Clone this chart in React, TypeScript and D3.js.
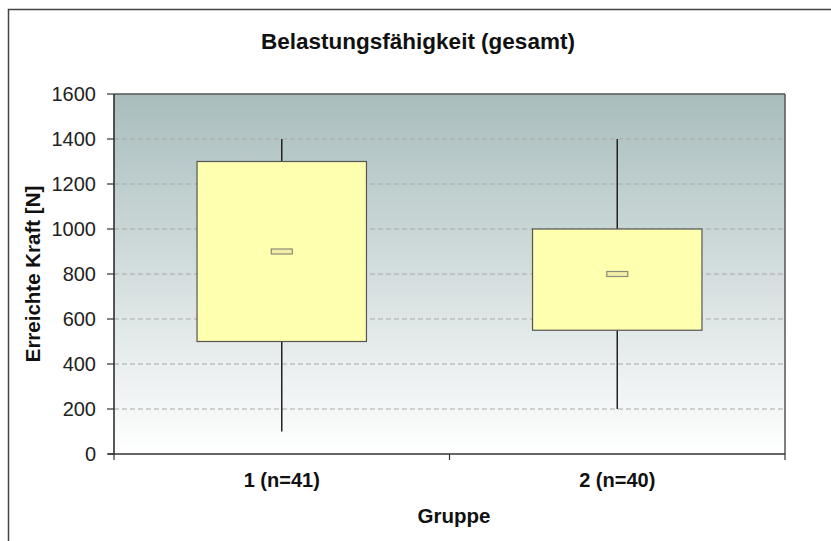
import React from "react";
import * as d3 from "d3";

// Boxplot-Daten
const groups = ["1 (n=41)", "2 (n=40)"];
const whiskerLow = [100, 200];
const q1 = [500, 550];
const median = [900, 800];
const q3 = [1300, 1000];
const whiskerHigh = [1400, 1400];
const yTicks = [0, 200, 400, 600, 800, 1000, 1200, 1400, 1600];

const W = 831;
const H = 541;
const margin = { left: 114, right: 46, top: 94, bottom: 87 };
const font = "Arial, 'Liberation Sans', sans-serif";

export default function App() {
  const x = d3
    .scaleBand<string>()
    .domain(groups)
    .range([margin.left, W - margin.right])
    .paddingInner(0)
    .paddingOuter(0);
  const y = d3
    .scaleLinear()
    .domain([0, 1600])
    .range([H - margin.bottom, margin.top]);

  const x0 = margin.left;
  const x1 = W - margin.right;
  const y0 = y(0);
  const y1 = y(1600);
  const boxW = x.bandwidth() * 0.505;

  return (
    <svg
      width={W}
      height={H}
      style={{ position: "absolute", left: 0, top: 0, background: "#fff" }}
      fontFamily={font}
    >
      <defs>
        <linearGradient id="bg" x1="0" y1="0" x2="0" y2="1">
          <stop offset="0%" stopColor="#a9bdbd" />
          <stop offset="100%" stopColor="#ffffff" />
        </linearGradient>
      </defs>
      {/* äußerer Rahmen */}
      <rect x={8.5} y={9.5} width={W} height={H} fill="none" stroke="#444" strokeWidth={1.5} />

      <text x={418} y={49} textAnchor="middle" fontSize={22.5} fontWeight="bold" fill="#111">
        Belastungsfähigkeit (gesamt)
      </text>

      <rect x={x0} y={y1} width={x1 - x0} height={y0 - y1} fill="url(#bg)" />

      {yTicks.slice(1, -1).map((t) => (
        <line
          key={t}
          x1={x0}
          x2={x1}
          y1={y(t)}
          y2={y(t)}
          stroke="#a8a8a8"
          strokeWidth={1}
          strokeDasharray="5,3"
        />
      ))}

      {/* Rahmen Plotbereich */}
      <line x1={x0} x2={x1} y1={y1} y2={y1} stroke="#555" strokeWidth={1.5} />
      <line x1={x1} x2={x1} y1={y1} y2={y0} stroke="#555" strokeWidth={1.5} />

      {groups.map((g, i) => {
        const cx = (x(g) as number) + x.bandwidth() / 2;
        return (
          <g key={g}>
            <line x1={cx} x2={cx} y1={y(whiskerHigh[i])} y2={y(q3[i])} stroke="#222" strokeWidth={1.5} />
            <line x1={cx} x2={cx} y1={y(q1[i])} y2={y(whiskerLow[i])} stroke="#222" strokeWidth={1.5} />
            <rect
              x={cx - boxW / 2}
              y={y(q3[i])}
              width={boxW}
              height={y(q1[i]) - y(q3[i])}
              fill="#ffffb0"
              stroke="#555"
              strokeWidth={1.2}
            />
            <rect
              x={cx - 10.5}
              y={y(median[i]) - 2.5}
              width={21}
              height={5}
              fill="#f2efa8"
              stroke="#8a8a78"
              strokeWidth={1.2}
            />
          </g>
        );
      })}

      {/* Achsen */}
      <line x1={x0} x2={x0} y1={y1} y2={y0 + 1} stroke="#222" strokeWidth={1.5} />
      <line x1={x0 - 6} x2={x1} y1={y0} y2={y0} stroke="#333" strokeWidth={1.5} />
      {yTicks.map((t) => (
        <g key={t}>
          <line x1={x0 - 7} x2={x0} y1={y(t)} y2={y(t)} stroke="#333" strokeWidth={1.2} />
          <text x={x0 - 18} y={y(t) + 7} textAnchor="end" fontSize={20} fill="#222">
            {t}
          </text>
        </g>
      ))}
      {[x0, x0 + x.bandwidth(), x1].map((tx, i) => (
        <line key={i} x1={tx} x2={tx} y1={y0} y2={y0 + 6} stroke="#333" strokeWidth={1.2} />
      ))}
      {groups.map((g) => (
        <text
          key={g}
          x={(x(g) as number) + x.bandwidth() / 2}
          y={y0 + 33}
          textAnchor="middle"
          fontSize={20}
          fontWeight="bold"
          fill="#111"
        >
          {g}
        </text>
      ))}
      <text x={454} y={523} textAnchor="middle" fontSize={20.5} fontWeight="bold" fill="#111">
        Gruppe
      </text>
      <text
        transform={`translate(40, ${(y0 + y1) / 2}) rotate(-90)`}
        textAnchor="middle"
        fontSize={20.5}
        fontWeight="bold"
        fill="#111"
      >
        Erreichte Kraft [N]
      </text>
    </svg>
  );
}
